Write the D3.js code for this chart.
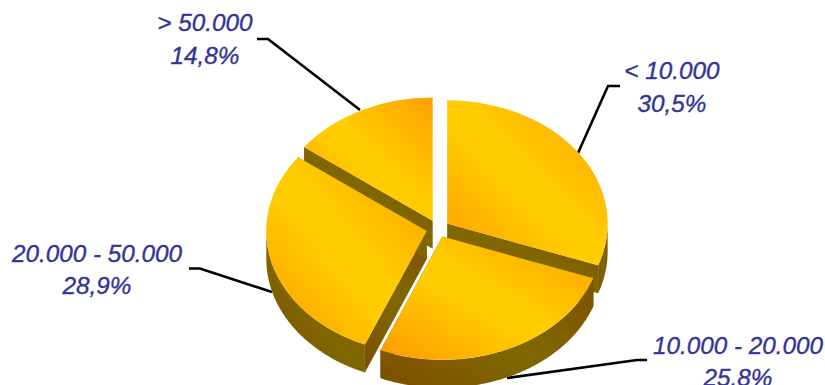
<!DOCTYPE html>
<html><head><meta charset="utf-8">
<script src="https://cdnjs.cloudflare.com/ajax/libs/d3/7.8.5/d3.min.js"></script>
<style>html,body{margin:0;padding:0;background:#fff;overflow:hidden}svg{display:block}
text{font-family:"Liberation Sans",Arial,sans-serif;font-style:italic;font-size:24.3px;fill:#333399;stroke:#333399;stroke-width:.35px;text-anchor:middle}</style>
</head><body><svg id="c" width="825" height="385"></svg>
<script>
const categories = ["< 10.000", "10.000 - 20.000", "20.000 - 50.000", "> 50.000"];
const values = [30.5, 25.8, 28.9, 14.8];
const valueLabels = ["30,5%", "25.8%", "28,9%", "14,8%"];

// layout
const cx = 437.8, cy = 228.6, rx = 160.5, ry = 123.2, depth = 28, explode = 11.4 / 160.5;
const paintOrder = [3, 0, 2, 1];
const labelAt = [[672, 79, 33], [738, 354, 32], [97, 262, 32], [205, 31, 33]];
const leaders = [
  [[620, 86], [608, 86], [578, 153]],
  [[647, 360], [637, 360], [507, 378]],
  [[189, 268.5], [200, 268.5], [272, 292]],
  [[257, 39], [268, 39], [360, 110]]
];

const svg = d3.select("#c");
const defs = svg.append("defs");
function grad(id, stops) {
  const g = defs.append("linearGradient").attr("id", id)
    .attr("x1", 0).attr("y1", 1).attr("x2", 1).attr("y2", 0);
  stops.forEach(([o, c]) => g.append("stop").attr("offset", o).attr("stop-color", c));
}
grad("top", [[0, "#ff9900"], [.43, "#ffcc00"], [.55, "#ffcc00"], [1, "#ffa000"]]);
grad("wall", [[0, "#7f4d00"], [.43, "#7f6600"], [.55, "#7f6600"], [1, "#7f5000"]]);

const pie = d3.pie().sort(null).value(d => d);
const arcs = pie(values);

const sx = d3.scaleLinear().domain([-1, 1]).range([cx - rx, cx + rx]);
const sy = d3.scaleLinear().domain([-1, 1]).range([cy - ry, cy + ry]);
const line = d3.line();

// leaders
svg.append("g").selectAll("path").data(leaders).join("path")
  .attr("d", d => line(d)).attr("fill", "none").attr("stroke", "#000").attr("stroke-width", 2.6);

const arcGen = d3.arc().innerRadius(0).outerRadius(1);

function slice(i) {
  const a = arcs[i], mid = (a.startAngle + a.endAngle) / 2;
  const ox = Math.sin(mid) * explode, oy = -Math.cos(mid) * explode;
  const pt = (t, r = 1, dz = 0) => [sx(ox + r * Math.sin(t)), sy(oy - r * Math.cos(t)) + dz];
  const g = svg.append("g");
  // radial faces
  [a.startAngle, a.endAngle].forEach(t => {
    g.append("path").attr("fill", "url(#wall)")
      .attr("d", line([pt(t, 0), pt(t), pt(t, 1, depth), pt(t, 0, depth)]) + "Z");
  });
  // outer wall, only the part that faces the viewer
  const lo = Math.max(a.startAngle, Math.PI / 2), hi = Math.min(a.endAngle, 3 * Math.PI / 2);
  if (hi > lo) {
    const ts = d3.range(lo, hi, 0.01).concat(hi);
    const poly = ts.map(t => pt(t)).concat(ts.slice().reverse().map(t => pt(t, 1, depth)));
    g.append("path").attr("fill", "url(#wall)").attr("d", line(poly) + "Z");
  }
  // top face
  g.append("path").attr("fill", "url(#top)")
    .attr("transform", `translate(${sx(ox)},${sy(oy)}) scale(${rx},${ry})`)
    .attr("d", arcGen(a));
}
paintOrder.forEach(slice);

// labels
const lab = svg.append("g").selectAll("text").data(categories).join("text")
  .attr("x", (d, i) => labelAt[i][0]).attr("y", (d, i) => labelAt[i][1]);
lab.append("tspan").text(d => d);
lab.append("tspan").attr("x", (d, i) => labelAt[i][0]).attr("dy", (d, i) => labelAt[i][2])
  .text((d, i) => valueLabels[i]);
</script></body></html>
